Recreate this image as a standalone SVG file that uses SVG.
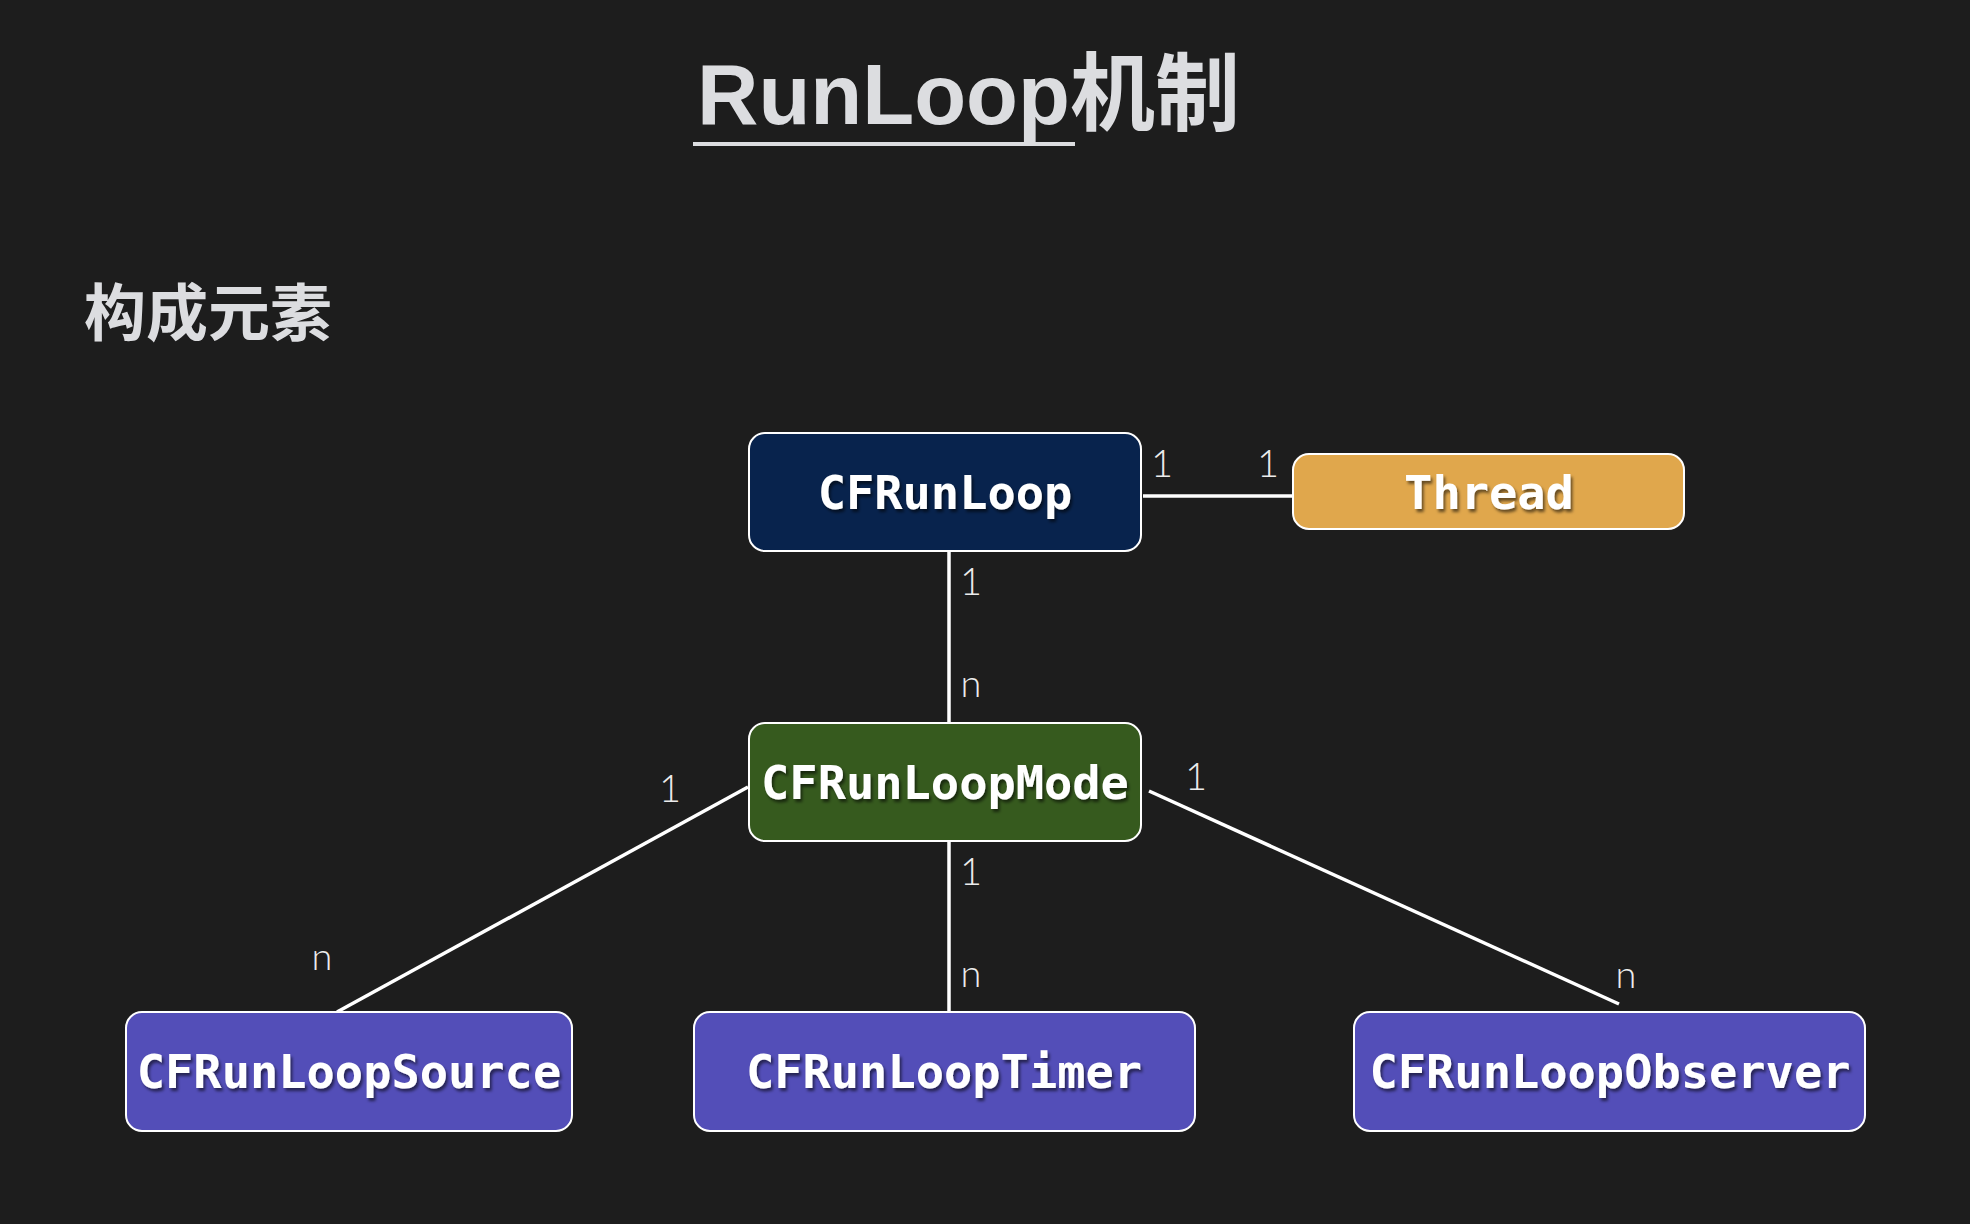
<svg xmlns="http://www.w3.org/2000/svg" width="1970" height="1224" viewBox="0 0 1970 1224">
<defs>
<filter id="ts" x="-10%" y="-30%" width="120%" height="160%">
<feDropShadow dx="2" dy="3" stdDeviation="1.5" flood-color="#000" flood-opacity="0.55"/>
</filter>
<style>
.box{stroke:#ffffff;stroke-width:2}
.lbl{font-family:"DejaVu Sans Mono","Liberation Mono",monospace;font-weight:bold;font-size:47px;fill:#ffffff;text-anchor:middle;filter:url(#ts)}
.card{font-family:Lato,"Open Sans","Liberation Sans",sans-serif;font-weight:300;font-size:38px;fill:#ececec;text-anchor:middle}
.conn line{stroke:#ffffff;stroke-width:3.5}
.title{font-family:"Liberation Sans","Noto Sans CJK SC",sans-serif;font-weight:bold;fill:#dcdde0}
</style>
</defs>
<rect width="1970" height="1224" fill="#1d1d1d"/>
<g id="title">
<text class="title" x="697" y="124" font-size="85">RunLoop机制</text>
<rect x="693" y="142" width="382" height="4" fill="#dcdde0"/>
</g>
<g id="subtitle">
<text class="title" x="84" y="336" font-size="62" font-family="'Noto Sans CJK SC',sans-serif">构成元素</text>
</g>
<g id="connectors" class="conn">
<line x1="1143" y1="496" x2="1292" y2="496"/>
<line x1="949" y1="550" x2="949" y2="724"/>
<line x1="748" y1="787" x2="337" y2="1012"/>
<line x1="949" y1="841" x2="949" y2="1012"/>
<line x1="1149" y1="791" x2="1619" y2="1004"/>
<text class="card" x="1162" y="477">1</text>
<text class="card" x="1268" y="477">1</text>
<text class="card" x="971" y="595">1</text>
<text class="card" x="971" y="697">n</text>
<text class="card" x="670" y="802">1</text>
<text class="card" x="322" y="970">n</text>
<text class="card" x="971" y="885">1</text>
<text class="card" x="971" y="987">n</text>
<text class="card" x="1196" y="790">1</text>
<text class="card" x="1626" y="988">n</text>
</g>
<g id="cfrunloop">
<rect class="box" x="749" y="433" width="392" height="118" rx="16" fill="#08234d"/>
<text class="lbl" x="945" y="509">CFRunLoop</text>
</g>
<g id="thread">
<rect class="box" x="1293" y="454" width="391" height="75" rx="16" fill="#e0a74c"/>
<text class="lbl" x="1489" y="509">Thread</text>
</g>
<g id="mode">
<rect class="box" x="749" y="723" width="392" height="118" rx="16" fill="#365a1e"/>
<text class="lbl" x="945" y="799">CFRunLoopMode</text>
</g>
<g id="source">
<rect class="box" x="126" y="1012" width="446" height="119" rx="16" fill="#534eb8"/>
<text class="lbl" x="349" y="1088">CFRunLoopSource</text>
</g>
<g id="timer">
<rect class="box" x="694" y="1012" width="501" height="119" rx="16" fill="#534eb8"/>
<text class="lbl" x="944" y="1088">CFRunLoopTimer</text>
</g>
<g id="observer">
<rect class="box" x="1354" y="1012" width="511" height="119" rx="16" fill="#534eb8"/>
<text class="lbl" x="1610" y="1088">CFRunLoopObserver</text>
</g>
</svg>
